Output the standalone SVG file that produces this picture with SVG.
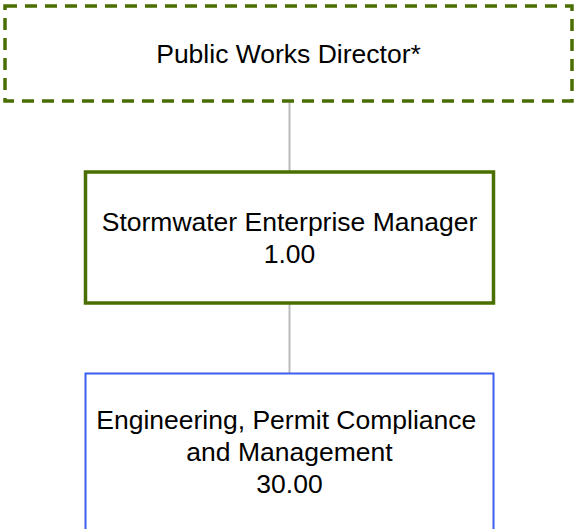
<svg xmlns="http://www.w3.org/2000/svg" width="577" height="529" viewBox="0 0 577 529">
<style>
.t{font-family:"Liberation Sans",Arial,sans-serif;font-size:26.5px;fill:#000;text-anchor:middle}
.conn{stroke:#bbbbbb;stroke-width:2;fill:none}
.green{fill:#fff;stroke:#4a6f00;stroke-width:3.5}
.blue{fill:#fff;stroke:#3d5cf0;stroke-width:2}
</style>
<rect width="577" height="529" fill="#fff"/>
<g id="connectors">
<line class="conn" x1="289.5" y1="101" x2="289.5" y2="172"/>
<line class="conn" x1="289.5" y1="303" x2="289.5" y2="373"/>
</g>
<g id="node-director">
<rect class="green" x="5" y="6" width="567" height="95" stroke-dasharray="12 8"/>
<text class="t" x="288.5" y="63.3">Public Works Director*</text>
</g>
<g id="node-manager">
<rect class="green" x="85.5" y="172" width="408" height="131"/>
<text class="t" x="289.5" y="231">Stormwater Enterprise Manager</text>
<text class="t" x="289.5" y="262.7">1.00</text>
</g>
<g id="node-engineering">
<rect class="blue" x="85.5" y="373.5" width="408" height="170"/>
<text class="t" x="286.3" y="428.5">Engineering, Permit Compliance</text>
<text class="t" x="289.5" y="461">and Management</text>
<text class="t" x="289.5" y="492.7">30.00</text>
</g>
</svg>
